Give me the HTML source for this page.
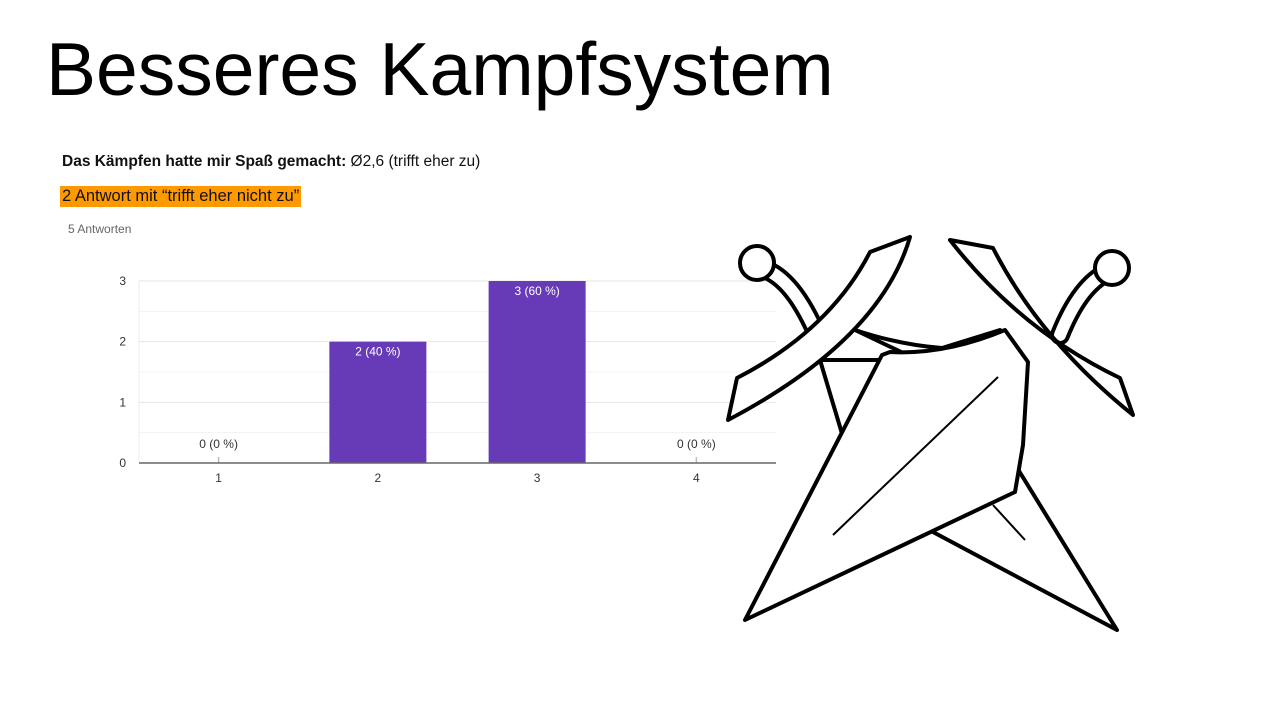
<!DOCTYPE html>
<html><head><meta charset="utf-8"><style>
body{margin:0;width:1280px;height:720px;background:#fff;position:relative;overflow:hidden;font-family:"Liberation Sans",Arial,sans-serif}
.a{position:absolute;white-space:nowrap}
</style></head><body>
<div class="a" style="left:46px;top:26px;font-size:75px;color:#000;">Besseres Kampfsystem</div>
<div class="a" style="left:62px;top:153px;font-size:15.5px;color:#111;"><b>Das Kämpfen hatte mir Spaß gemacht:</b> Ø2,6 (trifft eher zu)</div>
<div class="a" style="left:60px;top:186px;height:21px;line-height:21px;padding:0 2px;background:#ff9900;font-size:16.5px;color:#111;">2 Antwort mit “trifft eher nicht zu”</div>
<div class="a" style="left:68px;top:222px;font-size:12px;color:#666;">5 Antworten</div>
<svg id="chart" width="1280" height="720" style="position:absolute;left:0;top:0"></svg>
<svg width="1280" height="720" style="position:absolute;left:0;top:0" fill="#fff" stroke="#000" stroke-width="4" stroke-linejoin="round">
<path d="M1003,445 L1117,630 L933,532 Z"/>
<path d="M820,360 L843,437 L870,420 L880,360 Z"/>
<path d="M855,330 Q900,345 942,348 L1000,330 L960,380 Z" />
<path d="M760,268 Q790,275 815,330" stroke-width="20" stroke-linecap="round" fill="none"/>
<path d="M760,268 Q790,275 815,330" stroke="#fff" stroke-width="12" stroke-linecap="round" fill="none"/>
<circle cx="757" cy="263" r="17"/>
<circle cx="757" cy="263" r="14" stroke="none"/>
<path d="M1108,272 Q1080,285 1060,335" stroke-width="20" stroke-linecap="round" fill="none"/>
<path d="M1108,272 Q1080,285 1060,335" stroke="#fff" stroke-width="12" stroke-linecap="round" fill="none"/>
<circle cx="1112" cy="268" r="17"/>
<circle cx="1112" cy="268" r="14" stroke="none"/>
<path d="M882,355 L745,620 L1015,492 L1023,445 L1028,362 L1005,330 Q945,355 890,352 Z"/>
<path d="M870,252 L910,237 Q880,340 728,420 L737,378 Q830,330 870,252 Z"/>
<path d="M950,240 L993,248 Q1040,340 1133,415 L1120,378 Q1020,330 950,240 Z"/>
<line x1="833" y1="535" x2="998" y2="377" stroke-width="2"/>
<line x1="993" y1="505" x2="1025" y2="540" stroke-width="2"/>
</svg>
<script>
const categories=["1","2","3","4"];
const counts=[0,2,3,0];
const valueLabels=["0 (0 %)","2 (40 %)","3 (60 %)","0 (0 %)"];
const yTicks=[0,1,2,3];
const ns="http://www.w3.org/2000/svg";
const svg=document.getElementById('chart');
const x0=139,x1=776,yBase=463,yTop=281,yMax=3;
const y=v=>yBase-(v/yMax)*(yBase-yTop);
const band=(x1-x0)/categories.length;
const xc=i=>x0+band*(i+0.5);
function mk(t,a){const e=document.createElementNS(ns,t);for(const k in a)e.setAttribute(k,a[k]);svg.appendChild(e);return e;}
for(let v=0;v<=yMax;v+=0.5){
  const g=mk('line',{x1:x0,x2:x1,y1:y(v),y2:y(v),stroke:v%1?'#f3f3f3':'#e6e6e6','stroke-width':1});
  
  
}
mk('line',{x1:x0,x2:x0,y1:yTop,y2:yBase,stroke:'#eee'});
yTicks.forEach(v=>{
  const t=mk('text',{x:126,y:y(v)+4,'text-anchor':'end','font-size':12,fill:'#333'});
  t.textContent=v;
  
  
});
categories.forEach((c,i)=>{
  const w=97,h=yBase-y(counts[i]);
  if(counts[i]>0){
    const r=mk('rect',{x:xc(i)-w/2,y:y(counts[i]),width:w,height:h,fill:'#673ab7'});
    
    
    const t=mk('text',{x:xc(i),y:y(counts[i])+14,'text-anchor':'middle','font-size':12,fill:'#fff'});
    t.textContent=valueLabels[i];
    
    
  }else{
    const r=mk('line',{x1:xc(i),x2:xc(i),y1:yBase-6,y2:yBase,stroke:'#bbb','stroke-width':1.5});
    
    
    const t=mk('text',{x:xc(i),y:yBase-15,'text-anchor':'middle','font-size':12,fill:'#333'});
    t.textContent=valueLabels[i];
    
    
  }
  const l=mk('text',{x:xc(i),y:482,'text-anchor':'middle','font-size':12,fill:'#333'});
  l.textContent=c;
  
  
});
const ax=mk('line',{x1:x0,x2:x1,y1:yBase,y2:yBase,stroke:'#666','stroke-width':1.5});


</script>
</body></html>
